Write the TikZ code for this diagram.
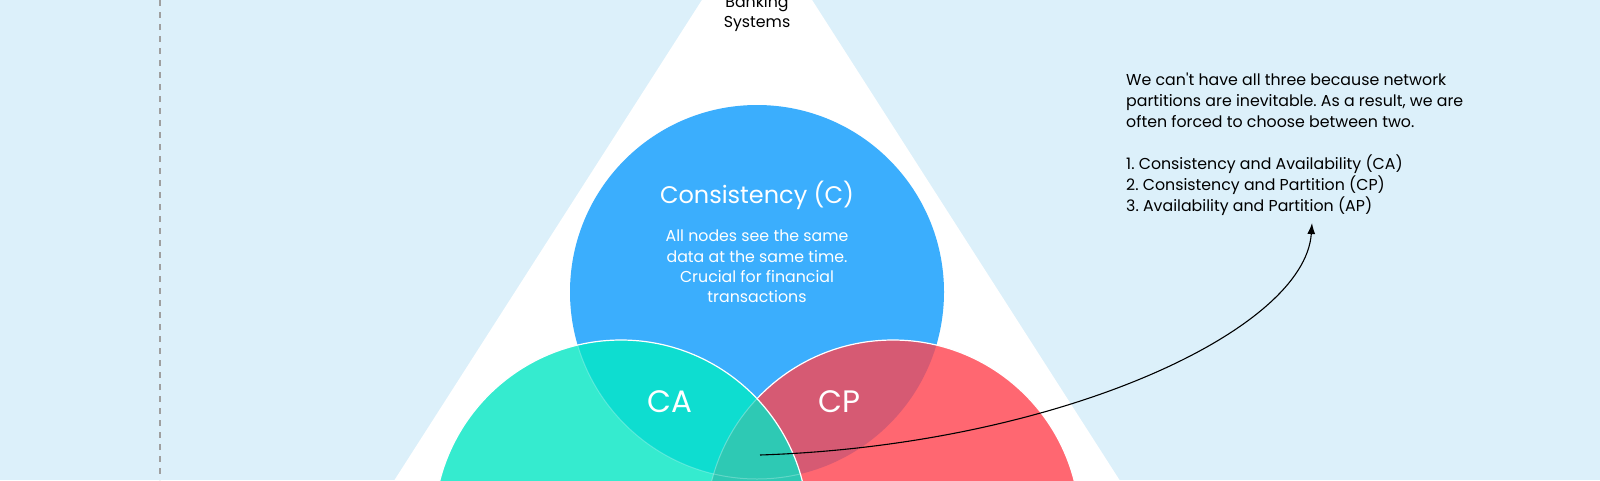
\documentclass[tikz,border=0pt]{standalone}
\usepackage{fontspec}
\setmainfont{Poppins}
\usetikzlibrary{arrows.meta}
\definecolor{bgblue}{HTML}{DCF0FA}
\definecolor{cblue}{HTML}{3BAEFD}
\definecolor{agreen}{HTML}{35EBCF}
\definecolor{pred}{HTML}{FF6771}
\definecolor{cagreen}{HTML}{0EDDD0}
\definecolor{cpred}{HTML}{D65A73}
\definecolor{allteal}{HTML}{2EC9B4}
\frenchspacing
\tikzset{
  bodytext/.style={font=\fontsize{15.8}{20.2}\selectfont,inner sep=0pt},
  pairlabel/.style={font=\fontsize{31}{34}\selectfont,text=white},
  ringline/.style={draw=white,line width=1.2pt}
}
\begin{document}
\begin{tikzpicture}[x=1pt,y=-1pt]
  \useasboundingbox (0,0) rectangle (1600,480);
  \clip (0,0) rectangle (1600,480);
  \fill[bgblue] (0,0) rectangle (1600,480);
  \draw[gray!75,line width=1.3pt,dash pattern=on 5.5pt off 6.5pt] (160,0) -- (160,480);
  \fill[white] (757,-86) -- (1140,512) -- (374,512) -- cycle;
  \node[bodytext,align=center,anchor=south] (bank) at (757,32) {Banking\\Systems};
  % the three properties
  \fill[cblue] (757,292) circle[radius=187];
  \fill[pred] (893,527) circle[radius=187];
  \begin{scope}
    \clip (757,292) circle[radius=187];
    \fill[cpred] (893,527) circle[radius=187];
  \end{scope}
  \draw[ringline] (893,527) circle[radius=187];
  \fill[agreen] (621,527) circle[radius=187];
  \begin{scope}
    \clip (757,292) circle[radius=187];
    \fill[cagreen] (621,527) circle[radius=187];
  \end{scope}
  \begin{scope}
    \clip (893,527) circle[radius=187];
    \fill[allteal] (621,527) circle[radius=187];
  \end{scope}
  \begin{scope}
    \clip (621,527) circle[radius=187];
    \draw[white,opacity=0.3,line width=1pt] (893,527) circle[radius=187];
    \draw[white,opacity=0.25,line width=1pt] (757,292) circle[radius=187];
  \end{scope}
  \draw[ringline] (621,527) circle[radius=187];
  \node[font=\fontsize{24}{27}\selectfont,text=white] (cons) at (757,195) {Consistency (C)};
  \node[bodytext,text=white,align=center,anchor=north] (consdesc) at (757,230)
    {All nodes see the same\\data at the same time.\\Crucial for financial\\transactions};
  \node[pairlabel] (ca) at (670,402) {CA};
  \node[pairlabel] (cp) at (839,402) {CP};
  % note on the right
  \node[bodytext,font=\fontsize{15.8}{20.9}\selectfont,align=left,anchor=north west] (note) at (1126,73)
    {We can\textquotesingle t have all three because network\\
     partitions are inevitable. As a result, we are\\
     often forced to choose between two.\\[20.9pt]
     1. Consistency and Availability (CA)\\
     2. Consistency and Partition (CP)\\
     3. Availability and Partition (AP)};
  \coordinate (core) at (760,455);
  \coordinate (notetip) at (1312,223);
  \draw[line width=1.1pt,-{Latex[length=11pt,width=8pt]}] (core)
    .. controls (1060,445) and (1305,330) .. (notetip);
\end{tikzpicture}
\end{document}
